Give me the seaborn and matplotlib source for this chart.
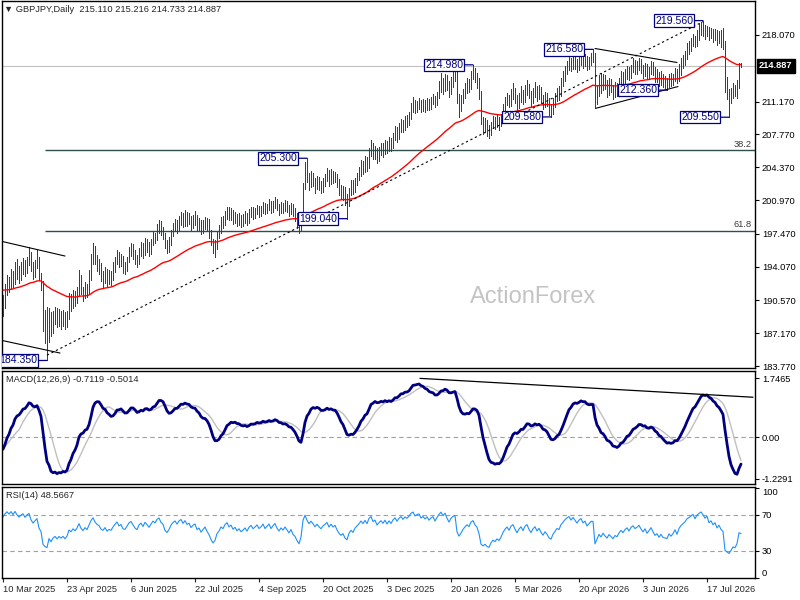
import matplotlib
matplotlib.use("Agg")
import matplotlib.pyplot as plt
import numpy as np
import pandas as pd
import seaborn as sns

# daily GBPJPY bars (10 Mar 2025 onwards, one row = 10 bars)
high = [191.1, 192.3, 193.2, 193.0, 193.8, 193.6, 194.6, 194.9, 194.1, 194.5,
        195.0, 194.8, 195.1, 196.1, 195.6, 194.6, 194.8, 195.8, 195.1, 193.4,
        192.6, 189.6, 189.9, 189.8, 189.4, 189.5, 189.9, 189.8, 189.7, 189.5,
        189.6, 189.4, 189.5, 191.3, 191.2, 191.7, 191.5, 192.0, 193.7, 193.2,
        192.0, 192.5, 192.3, 193.7, 195.4, 196.5, 196.2, 195.3, 194.9, 194.4,
        193.6, 194.0, 193.8, 193.7, 193.6, 194.5, 195.1, 195.8, 195.6, 195.4,
        195.2, 194.6, 195.1, 196.1, 196.5, 196.4, 195.8, 195.3, 196.0, 196.6,
        196.5, 197.0, 196.9, 196.6, 196.9, 197.8, 197.6, 198.5, 198.9, 198.8,
        198.2, 197.6, 196.8, 197.1, 197.9, 198.6, 199.0, 198.9, 199.3, 199.7,
        199.6, 199.9, 199.7, 199.6, 199.3, 199.4, 199.8, 199.4, 199.1, 198.9,
        198.9, 199.2, 199.1, 199.0, 197.9, 196.9, 196.8, 197.8, 198.4, 199.2,
        199.3, 199.8, 200.25, 200.2, 200.1, 199.9, 199.7, 199.5, 199.6, 199.4,
        199.5, 199.8, 199.6, 200.0, 200.3, 200.2, 200.1, 200.5, 200.4, 200.4,
        200.8, 200.7, 200.6, 201.1, 200.9, 200.9, 201.3, 201.1, 200.6, 200.8,
        200.7, 201.0, 200.9, 200.5, 200.7, 200.6, 200.1, 199.6, 198.9, 199.3,
        202.7, 204.9, 205.3, 203.8, 204.0, 203.8, 203.3, 203.5, 203.4, 202.9,
        203.3, 203.7, 204.3, 204.1, 204.2, 204.0, 203.9, 203.7, 203.1, 202.5,
        202.4, 202.3, 201.6, 202.2, 203.0, 203.0, 203.3, 203.8, 204.4, 205.1,
        205.0, 205.5, 205.4, 206.4, 207.2, 206.9, 206.6, 206.4, 206.5, 206.9,
        206.9, 207.2, 207.1, 207.5, 207.4, 207.9, 208.6, 208.5, 208.9, 209.4,
        209.3, 209.7, 209.8, 210.1, 211.0, 211.6, 211.3, 211.2, 211.5, 211.3,
        211.4, 211.3, 211.5, 211.4, 211.6, 212.0, 211.8, 212.2, 213.3, 214.1,
        213.6, 214.0, 213.9, 213.3, 213.7, 214.3, 214.75, 214.2, 212.0, 211.9,
        212.5, 213.1, 213.6, 213.5, 214.3, 214.98, 214.7, 214.1, 213.6, 212.3,
        209.6, 209.5, 209.3, 208.7, 209.1, 209.7, 209.6, 209.8, 209.6, 209.9,
        210.9, 211.6, 212.1, 211.9, 212.5, 213.1, 212.6, 211.9, 212.1, 212.8,
        212.4, 212.9, 213.4, 213.0, 212.3, 212.6, 213.2, 212.8, 212.9, 212.7,
        211.9, 212.2, 212.1, 211.5, 210.9, 211.5, 212.1, 212.6, 212.8, 213.6,
        214.3, 214.9, 215.4, 215.9, 215.7, 216.0, 216.1, 215.6, 215.9, 216.2,
        216.0, 216.1, 215.9, 215.8, 216.2, 216.58, 216.2, 212.9, 213.9, 214.1,
        214.0, 213.9, 213.4, 213.6, 213.5, 212.9, 213.2, 213.1, 213.6, 214.3,
        214.2, 214.5, 214.9, 214.8, 215.0, 215.7, 215.5, 215.4, 215.7, 215.6,
        215.0, 215.2, 215.1, 214.8, 215.4, 215.3, 214.8, 214.5, 214.2, 214.3,
        214.0, 213.8, 213.6, 214.0, 214.1, 214.0, 214.6, 214.5, 215.1, 215.7,
        216.0, 216.4, 217.2, 217.4, 217.8, 218.2, 218.0, 218.6, 219.2, 219.4,
        219.56, 219.1, 219.0, 218.9, 218.8, 218.7, 218.7, 218.6, 218.5, 218.6,
        218.8, 217.4, 213.7, 212.5, 212.6, 213.1, 212.9, 213.4, 215.2, 215.216]

low = [189.0, 189.8, 191.1, 191.4, 191.8, 192.0, 192.3, 192.8, 192.4, 192.7,
       193.3, 193.1, 193.4, 194.2, 193.6, 192.8, 193.0, 193.9, 192.7, 191.6,
       187.4, 186.2, 184.35, 186.3, 186.9, 187.2, 188.1, 187.8, 187.9, 187.6,
       187.9, 187.6, 187.8, 188.6, 189.5, 189.8, 190.0, 190.3, 191.0, 191.2,
       190.5, 190.8, 190.9, 191.2, 192.7, 194.3, 194.3, 193.6, 193.3, 192.6,
       192.0, 192.4, 192.1, 192.3, 192.2, 192.7, 193.5, 194.3, 194.0, 194.1,
       193.4, 193.3, 193.6, 194.5, 195.2, 194.9, 194.3, 194.0, 194.3, 195.2,
       195.0, 195.3, 195.6, 195.2, 195.4, 196.3, 196.5, 196.8, 197.6, 197.3,
       196.9, 196.0, 195.5, 195.6, 196.3, 197.2, 197.8, 197.6, 197.9, 198.4,
       198.2, 198.3, 198.3, 198.5, 197.9, 198.1, 198.4, 197.8, 197.9, 197.5,
       197.6, 198.0, 197.8, 197.0, 196.3, 195.5, 195.1, 195.9, 197.0, 197.6,
       198.1, 198.4, 199.0, 198.9, 198.9, 198.5, 198.6, 198.3, 198.4, 198.2,
       198.3, 198.6, 198.4, 198.6, 199.2, 199.0, 199.1, 199.5, 199.2, 199.3,
       199.6, 199.5, 199.6, 199.9, 199.6, 199.7, 200.1, 199.9, 199.4, 199.6,
       199.6, 199.8, 199.7, 199.3, 199.5, 199.3, 198.8, 198.1, 197.6, 197.8,
       198.7, 202.1, 202.8, 202.0, 202.3, 202.4, 201.7, 202.1, 202.0, 201.7,
       201.8, 202.4, 202.9, 202.4, 202.6, 202.7, 202.8, 202.3, 201.5, 201.1,
       201.0, 200.5, 199.04, 200.4, 201.5, 201.6, 201.8, 202.5, 203.0, 203.5,
       203.7, 203.9, 204.0, 204.3, 205.5, 205.2, 205.2, 204.8, 205.0, 205.6,
       205.4, 205.7, 205.8, 206.0, 206.0, 206.4, 207.2, 207.0, 207.3, 208.0,
       208.0, 208.2, 208.5, 208.7, 209.4, 210.1, 210.0, 210.1, 210.4, 210.1,
       210.2, 210.1, 210.3, 210.3, 210.4, 210.9, 210.6, 210.8, 211.5, 212.2,
       212.0, 212.3, 212.4, 211.6, 212.0, 212.7, 213.3, 211.0, 209.6, 210.2,
       211.0, 211.5, 212.1, 212.2, 212.5, 213.5, 213.2, 212.6, 211.4, 208.8,
       207.8, 208.0, 207.6, 207.4, 207.7, 208.4, 208.3, 208.5, 208.2, 208.6,
       209.2, 210.0, 210.8, 210.6, 210.7, 211.4, 211.0, 210.3, 210.5, 211.1,
       210.9, 211.1, 211.9, 211.5, 210.6, 211.0, 211.6, 211.2, 211.4, 211.0,
       210.4, 210.6, 210.7, 209.8, 209.58, 209.9, 210.6, 211.2, 211.3, 211.7,
       212.8, 213.3, 214.0, 214.4, 214.3, 214.5, 214.5, 214.2, 214.4, 215.0,
       214.6, 214.9, 214.4, 214.5, 215.0, 215.3, 210.5, 210.9, 211.8, 212.1,
       212.4, 212.5, 211.6, 211.9, 212.2, 211.4, 211.6, 211.8, 212.1, 212.8,
       212.9, 213.0, 213.5, 213.4, 213.6, 214.2, 214.0, 214.0, 214.4, 214.1,
       213.6, 213.8, 213.5, 213.5, 214.0, 213.9, 213.2, 213.2, 212.8, 212.9,
       212.7, 212.6, 212.36, 212.7, 212.8, 212.9, 213.3, 213.1, 213.3, 213.9,
       214.6, 215.0, 215.6, 216.1, 216.4, 216.9, 216.8, 216.9, 217.6, 218.1,
       218.0, 217.7, 218.0, 217.6, 217.8, 217.3, 217.6, 217.0, 217.2, 216.8,
       216.6, 212.2, 211.4, 209.55, 211.0, 211.5, 211.8, 211.5, 212.6, 214.733]

close = [190.2, 191.5, 192.4, 192.0, 193.1, 192.6, 194.0, 193.4, 193.0, 193.8,
         194.3, 193.7, 194.6, 195.2, 194.1, 193.5, 194.2, 194.9, 193.0, 192.2,
         188.0, 187.0, 186.5, 188.9, 187.6, 188.7, 189.2, 188.3, 189.0, 188.4,
         188.9, 188.1, 188.8, 190.6, 190.1, 191.0, 190.5, 191.3, 192.8, 191.6,
         191.0, 191.9, 191.4, 192.9, 194.6, 195.8, 194.8, 194.2, 193.9, 193.0,
         192.7, 193.5, 192.6, 193.1, 192.9, 193.8, 194.6, 195.3, 194.5, 194.9,
         194.0, 193.9, 194.7, 195.6, 196.0, 195.4, 194.8, 194.5, 195.6, 196.1,
         195.5, 196.6, 196.2, 195.7, 196.5, 197.3, 197.0, 198.0, 198.4, 197.7,
         197.4, 196.3, 195.9, 196.5, 197.5, 198.2, 198.6, 198.1, 198.9, 199.3,
         198.7, 199.4, 198.8, 199.1, 198.4, 198.9, 199.2, 198.3, 198.6, 197.9,
         198.4, 198.9, 198.2, 197.6, 196.6, 195.8, 196.2, 197.4, 197.9, 198.8,
         198.5, 199.4, 199.9, 199.2, 199.6, 198.9, 199.3, 198.7, 199.1, 198.6,
         198.9, 199.3, 198.8, 199.5, 199.9, 199.4, 199.7, 200.1, 199.6, 199.9,
         200.4, 199.8, 200.2, 200.6, 200.0, 200.5, 200.9, 200.3, 199.9, 200.4,
         200.1, 200.6, 200.2, 199.8, 200.3, 199.6, 199.3, 198.6, 198.0, 198.9,
         202.4, 204.2, 203.3, 202.6, 203.4, 202.9, 202.3, 203.0, 202.5, 202.1,
         202.8, 203.2, 203.7, 202.9, 203.6, 203.1, 203.5, 202.7, 202.0, 201.6,
         201.9, 201.0, 200.6, 201.8, 202.4, 202.0, 202.9, 203.4, 203.9, 204.6,
         204.2, 205.0, 204.5, 205.9, 206.5, 205.7, 206.1, 205.3, 205.9, 206.4,
         206.0, 206.8, 206.2, 207.0, 206.6, 207.5, 208.1, 207.6, 208.4, 208.9,
         208.5, 209.2, 209.0, 209.6, 210.5, 210.9, 210.4, 210.8, 211.0, 210.5,
         210.9, 210.6, 211.1, 210.7, 211.2, 211.5, 211.0, 211.8, 212.6, 213.2,
         212.8, 213.5, 212.9, 212.4, 213.3, 213.8, 214.0, 211.5, 210.6, 211.2,
         212.0, 212.6, 213.1, 212.8, 213.9, 214.3, 213.6, 213.2, 212.0, 209.2,
         208.6, 208.9, 208.2, 207.9, 208.7, 209.2, 208.8, 209.3, 208.9, 209.5,
         210.4, 211.1, 211.6, 211.0, 211.9, 212.3, 211.5, 210.8, 211.6, 212.1,
         211.4, 212.4, 212.8, 211.9, 211.3, 212.1, 212.6, 211.8, 212.4, 211.6,
         211.0, 211.7, 211.2, 210.4, 210.1, 211.0, 211.6, 212.2, 212.0, 213.1,
         213.7, 214.4, 214.9, 215.3, 214.8, 215.5, 215.1, 214.7, 215.4, 215.8,
         215.2, 215.6, 214.9, 215.4, 215.9, 215.9, 211.3, 212.3, 213.4, 212.7,
         213.6, 212.9, 212.3, 213.1, 212.6, 212.0, 212.7, 212.4, 213.2, 213.8,
         213.3, 214.0, 214.4, 213.8, 214.6, 215.0, 214.5, 214.8, 215.2, 214.6,
         214.1, 214.7, 213.9, 214.4, 215.0, 214.3, 213.6, 213.9, 213.2, 213.7,
         213.1, 213.0, 212.9, 213.6, 213.2, 213.6, 214.2, 213.5, 214.5, 215.1,
         215.5, 215.9, 216.6, 216.9, 217.3, 217.7, 217.2, 218.1, 218.6, 219.0,
         218.7, 218.3, 218.8, 218.0, 218.4, 217.9, 218.3, 217.6, 218.1, 217.5,
         217.2, 212.6, 212.0, 211.3, 211.8, 212.4, 212.1, 212.8, 215.05, 214.887]

last_open = 215.110
first_day = "2025-03-10"
market_holidays = ["2025-12-25", "2026-01-01"]

# indicator values already running on the first bar
ma_start = 191.7
ema12_start, ema26_start = 190.0, 190.4

# labelled swing points (bar index, which side)
swing_bars = [22, 152, 172, 235, 274, 295, 332, 350, 363]
swing_kind = ["low", "high", "low", "high", "low", "high", "low", "high", "low"]

fib_ratios = [38.2, 61.8]
price_ticks = [218.070, 211.170, 207.770, 204.370, 200.970, 197.470,
               194.070, 190.570, 187.170, 183.770]
macd_ticks = [1.7465, 0.0, -1.2291]
macd_tick_text = ["1.7465", "0.00", "-1.2291"]
macd_head = (-0.7119, -0.5014)
rsi_head = 48.5667
rsi_ticks = [100, 70, 30, 0]

# hand drawn objects: (bar, value) end points
trend_line = [(22, 184.9), (350, 219.45)]
channel_up = [(-1.5, 196.73), (31, 195.17)]
channel_dn = [(-1.5, 186.47), (28.5, 185.12)]
tri_up = [(296, 216.67), (337, 215.22)]
tri_dn = [(296.5, 210.48), (337.5, 212.73)]
macd_trend = [(208.5, 1.75), (375, 1.19)]

# ---------------------------------------------------------------
sns.set_style("white")
plt.rcParams["font.family"] = ["Liberation Sans", "DejaVu Sans"]
FS = 6.7
NAVY = "#000080"
BARC = "#1b4a5e"


def ema(vals, span, start):
    a = 2 / (span + 1)
    out, cur = [], start
    for v in vals:
        cur = cur + a * (v - cur)
        out.append(cur)
    return np.array(out)


def wilder_rsi(vals, n=14):
    d = np.diff(vals)
    g, l = np.clip(d, 0, None), np.clip(-d, 0, None)
    ag, al = g[:n].mean(), l[:n].mean()
    out = [100 - 100 / (1 + ag / al)]
    for gi, li in zip(g, l):
        ag = (ag * (n - 1) + gi) / n
        al = (al * (n - 1) + li) / n
        out.append(100 - 100 / (1 + ag / al))
    return np.array(out)


df = pd.DataFrame({"high": high, "low": low, "close": close})
df["bar"] = np.arange(len(df))
dates = pd.bdate_range(first_day, periods=len(df), freq="C", holidays=market_holidays)
df["ma"] = ema(close, 55, ma_start)
df["macd"] = ema(close, 12, ema12_start) - ema(close, 26, ema26_start)
df["signal"] = df["macd"].rolling(9, min_periods=1).mean()
df["rsi"] = wilder_rsi(np.array(close))

W, H = 800, 600
fig = plt.figure(figsize=(8, 6), dpi=100)


def px_axes(x0, y0, x1, y1):
    return fig.add_axes([x0 / W, 1 - y1 / H, (x1 - x0) / W, (y1 - y0) / H])


ax = px_axes(1.5, 1, 755, 368)
axm = px_axes(1.5, 371, 755, 484)
axr = px_axes(1.5, 487, 755, 578)

xlim = (-0.75, 376)
for a in (ax, axm, axr):
    a.set_xlim(*xlim)
    for s in a.spines.values():
        s.set_color("black")
        s.set_linewidth(1)
    a.yaxis.tick_right()
    a.tick_params(axis="y", labelsize=FS, length=3, pad=2, direction="out", colors="black")
    a.tick_params(axis="x", bottom=False, labelbottom=False)

# ---- price panel ----
ax.set_ylim(183.57, 221.59)
ax.axhline(close[-1], color="#c0c0c0", lw=0.8, zorder=1)
ax.vlines(df["bar"], df["low"], df["high"], color=BARC, lw=0.5, antialiased=False, zorder=3)
sns.lineplot(data=df, x="bar", y="ma", ax=ax, color="red", lw=1, zorder=4)

fib_lo, fib_hi = low[22], high[350]
for r in fib_ratios:
    lvl = fib_hi - r / 100 * (fib_hi - fib_lo)
    ax.hlines(lvl, 21, xlim[1], color="#2f4f4f", lw=1, zorder=2)
    ax.text(xlim[1] - 1.5, lvl + 0.15, f"{r:.1f}", ha="right", va="bottom",
            fontsize=FS, color="#3a3a3a")

for pts, st in [(trend_line, (0, (2, 2.5))), (channel_up, "-"), (channel_dn, "-"),
                (tri_up, "-"), (tri_dn, "-")]:
    ax.plot([p[0] for p in pts], [p[1] for p in pts], color="black", lw=0.8, ls=st, zorder=5)

for b, k in zip(swing_bars, swing_kind):
    v = high[b] if k == "high" else low[b]
    ax.annotate(f"{v:.3f}", xy=(b, v), xytext=(-10, 0), textcoords="offset pixels",
                ha="right", va="center", fontsize=7.6, color=NAVY, zorder=6,
                bbox=dict(boxstyle="square,pad=0.12", fc="white", ec=NAVY, lw=0.9),
                arrowprops=dict(arrowstyle="-", color=NAVY, lw=0.9, shrinkA=0, shrinkB=0),
                annotation_clip=False, clip_on=True)

ax.set_yticks(price_ticks)
ax.set_yticklabels([f"{v:.3f}" for v in price_ticks])
ax.annotate(f"{close[-1]:.3f}", xy=(1, close[-1]), xycoords=("axes fraction", "data"),
            xytext=(4, 0), textcoords="offset pixels", ha="left", va="center",
            fontsize=FS, color="white", fontweight="bold", annotation_clip=False,
            bbox=dict(boxstyle="square,pad=0.25", fc="black", ec="black"))
ax.annotate("\u25bc GBPJPY,Daily  " + f"{last_open:.3f} {high[-1]:.3f} {low[-1]:.3f} {close[-1]:.3f}",
            xy=(0, 1), xycoords="axes fraction", xytext=(3, -4), textcoords="offset pixels",
            ha="left", va="top", fontsize=FS)
ax.text(0.705, 0.193, "ActionForex", transform=ax.transAxes, ha="center", va="center",
        fontsize=17, color="#c4c4c4", zorder=0)

# ---- MACD panel ----
axm.set_ylim(-1.387, 1.969)
axm.axhline(0, color="#a0a0a0", lw=0.8, ls=(0, (4, 3)))
sns.lineplot(data=df, x="bar", y="signal", ax=axm, color="#c0c0c0", lw=1)
sns.lineplot(data=df, x="bar", y="macd", ax=axm, color=NAVY, lw=2)
axm.plot([p[0] for p in macd_trend], [p[1] for p in macd_trend], color="black", lw=0.9)
axm.set_yticks(macd_ticks)
axm.set_yticklabels(macd_tick_text)
axm.annotate(f"MACD(12,26,9) {macd_head[0]:.4f} {macd_head[1]:.4f}", xy=(0, 1),
             xycoords="axes fraction", xytext=(5, -4), textcoords="offset pixels",
             ha="left", va="top", fontsize=FS)

# ---- RSI panel ----
axr.set_ylim(-0.3, 101)
for lvl in (70, 30):
    axr.axhline(lvl, color="#a0a0a0", lw=0.8, ls=(0, (4, 3)))
sns.lineplot(data=df, x="bar", y="rsi", ax=axr, color="#1e90ff", lw=0.8)
axr.set_yticks(rsi_ticks)
axr.set_yticklabels([str(v) for v in rsi_ticks])
tl = axr.get_yticklabels()
tl[0].set_va("top")
tl[-1].set_va("bottom")
axr.annotate(f"RSI(14) {rsi_head:.4f}", xy=(0, 1), xycoords="axes fraction",
             xytext=(5, -4), textcoords="offset pixels", ha="left", va="top", fontsize=FS)

tick_bars = list(range(0, len(df), 32))
axr.tick_params(axis="x", bottom=True, labelbottom=True, labelsize=FS, length=3,
                pad=2, direction="out")
axr.set_xticks(tick_bars)
axr.set_xticklabels([f"{dates[i].day} {dates[i]:%b %Y}" for i in tick_bars], ha="left")

for a in (ax, axm, axr):
    a.set_xlabel("")
    a.set_ylabel("")
    if a.get_legend():
        a.get_legend().remove()

fig.savefig("out.png", dpi=100, facecolor="white")
